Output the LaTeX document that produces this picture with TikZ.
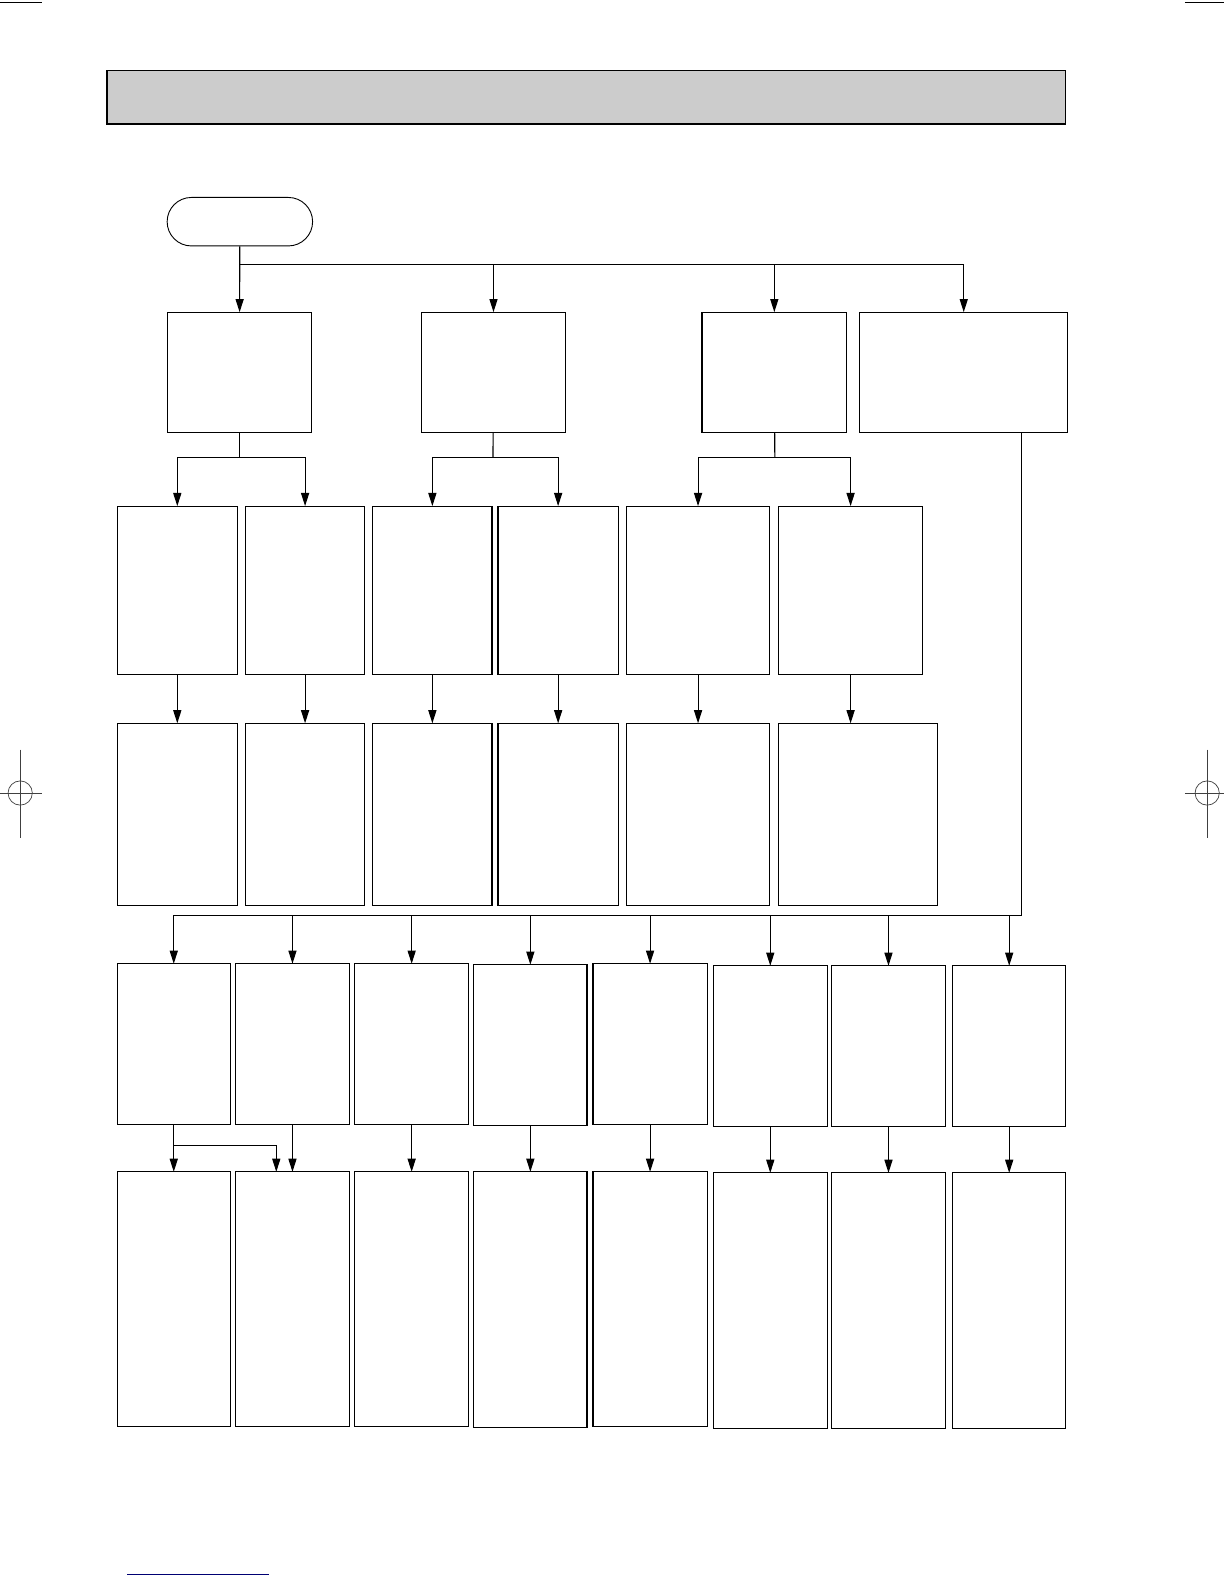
\documentclass[tikz,border=0pt]{standalone}
\usetikzlibrary{arrows.meta}

\begin{document}
\begin{tikzpicture}[x=1pt,y=-1pt,
  blk/.style={draw, rectangle, anchor=north west, inner sep=0pt, outer sep=0pt, line width=1.2pt},
  term/.style={draw, rectangle, rounded corners=24pt, anchor=north west, inner sep=0pt, line width=0.9pt},
  arr/.style={line width=1.1pt, -{Triangle[length=13pt,width=8pt]}},
  wire/.style={line width=1.1pt},
  regmark/.style={line width=0.7pt, black!75}]
  \useasboundingbox (0,0) rectangle (1212,1568);

  % page marks
  \draw[line width=0.9pt] (0,2) -- (42,2);
  \draw[line width=0.9pt] (1173,2) -- (1212,2);
  \draw[line width=1pt, blue!45!black] (126,1559) -- (266,1559);
  \draw[regmark] (20,742) -- (20,830);
  \draw[regmark] (0,785) -- (42,785);
  \draw[regmark] (20,785) circle (12);
  \draw[regmark] (1195,742) -- (1195,830);
  \draw[regmark] (1173,785) -- (1212,785);
  \draw[regmark] (1195,785) circle (12);

  % title bar
  \node[blk, fill=black!20, minimum width=949pt, minimum height=53pt] (title) at (106,70) {};
  \draw[line width=2.4pt] (title.south west) -- (title.south east);

  \node[term, minimum width=144pt, minimum height=48pt] (start) at (165,195) {};

  % first level
  \node[blk, minimum width=142pt, minimum height=119pt] (A) at (166,309) {};
  \node[blk, minimum width=143pt, minimum height=119pt] (B) at (417,309) {};
  \node[blk, minimum width=143pt, minimum height=119pt] (C) at (695,309) {};
  \node[blk, minimum width=206pt, minimum height=119pt] (D) at (851,309) {};

  % second level
  \node[blk, minimum width=119pt, minimum height=167pt] (r2a) at (116,501) {};
  \node[blk, minimum width=118pt, minimum height=167pt] (r2b) at (243,501) {};
  \node[blk, minimum width=118pt, minimum height=167pt] (r2c) at (369,501) {};
  \node[blk, minimum width=119pt, minimum height=167pt] (r2d) at (493,501) {};
  \node[blk, minimum width=142pt, minimum height=167pt] (r2e) at (620,501) {};
  \node[blk, minimum width=142pt, minimum height=167pt] (r2f) at (771,501) {};

  % third level
  \node[blk, minimum width=119pt, minimum height=180pt] (r3a) at (116,716) {};
  \node[blk, minimum width=118pt, minimum height=180pt] (r3b) at (243,716) {};
  \node[blk, minimum width=118pt, minimum height=180pt] (r3c) at (369,716) {};
  \node[blk, minimum width=119pt, minimum height=180pt] (r3d) at (493,716) {};
  \node[blk, minimum width=142pt, minimum height=180pt] (r3e) at (620,716) {};
  \node[blk, minimum width=157pt, minimum height=180pt] (r3f) at (771,716) {};

  % fourth level
  \node[blk, minimum width=112pt, minimum height=159pt] (r4a) at (116,954) {};
  \node[blk, minimum width=113pt, minimum height=159pt] (r4b) at (233,954) {};
  \node[blk, minimum width=113pt, minimum height=159pt] (r4c) at (351,954) {};
  \node[blk, minimum width=112pt, minimum height=159pt] (r4d) at (469,955) {};
  \node[blk, minimum width=113pt, minimum height=159pt] (r4e) at (587,954) {};
  \node[blk, minimum width=113pt, minimum height=159pt] (r4f) at (706,956) {};
  \node[blk, minimum width=113pt, minimum height=159pt] (r4g) at (823,956) {};
  \node[blk, minimum width=112pt, minimum height=159pt] (r4h) at (943,956) {};

  % fifth level
  \node[blk, minimum width=112pt, minimum height=252pt] (r5a) at (116,1160) {};
  \node[blk, minimum width=113pt, minimum height=252pt] (r5b) at (233,1160) {};
  \node[blk, minimum width=113pt, minimum height=252pt] (r5c) at (351,1160) {};
  \node[blk, minimum width=112pt, minimum height=253pt] (r5d) at (469,1160) {};
  \node[blk, minimum width=113pt, minimum height=252pt] (r5e) at (587,1160) {};
  \node[blk, minimum width=113pt, minimum height=253pt] (r5f) at (706,1161) {};
  \node[blk, minimum width=113pt, minimum height=253pt] (r5g) at (823,1161) {};
  \node[blk, minimum width=112pt, minimum height=253pt] (r5h) at (943,1161) {};

  % joints
  \coordinate (j0) at (237,262);
  \coordinate (ja) at (237,453);
  \coordinate (jb) at (488,453);
  \coordinate (jc) at (767,453);
  \coordinate (jd) at (1011,906);
  \coordinate (jt) at (172,1134);

  \draw[arr] (start) -- (A);
  \draw[arr] (j0) -| (B);
  \draw[arr] (j0) -| (C);
  \draw[arr] (j0) -| (D);

  \draw[wire] (A) -- (ja);
  \draw[arr] (ja) -| (r2a);
  \draw[arr] (ja) -| (r2b);
  \draw[wire] (B) -- (jb);
  \draw[arr] (jb) -| (r2c);
  \draw[arr] (jb) -| (r2d);
  \draw[wire] (C) -- (jc);
  \draw[arr] (jc) -| (r2e);
  \draw[arr] (jc) -| (r2f);

  \draw[arr] (r2a) -- (r3a);
  \draw[arr] (r2b) -- (r3b);
  \draw[arr] (r2c) -- (r3c);
  \draw[arr] (r2d) -- (r3d);
  \draw[arr] (r2e) -- (r3e);
  \draw[arr] (r2f) -- (r2f |- r3f.north);

  \draw[wire] (D.south -| jd) -- (jd) -- (r4a |- jd);
  \draw[arr] (r4a |- jd) -- (r4a);
  \draw[arr] (r4b |- jd) -- (r4b);
  \draw[arr] (r4c |- jd) -- (r4c);
  \draw[arr] (r4d |- jd) -- (r4d);
  \draw[arr] (r4e |- jd) -- (r4e);
  \draw[arr] (r4f |- jd) -- (r4f);
  \draw[arr] (r4g |- jd) -- (r4g);
  \draw[arr] (r4h |- jd) -- (r4h);

  \draw[arr] (r4a) -- (r5a);
  \draw[arr] (jt) -| ([xshift=-16pt]r5b.north);
  \draw[arr] (r4b) -- (r5b);
  \draw[arr] (r4c) -- (r5c);
  \draw[arr] (r4d) -- (r5d);
  \draw[arr] (r4e) -- (r5e);
  \draw[arr] (r4f) -- (r5f);
  \draw[arr] (r4g) -- (r5g);
  \draw[arr] (r4h) -- (r5h);
\end{tikzpicture}
\end{document}
